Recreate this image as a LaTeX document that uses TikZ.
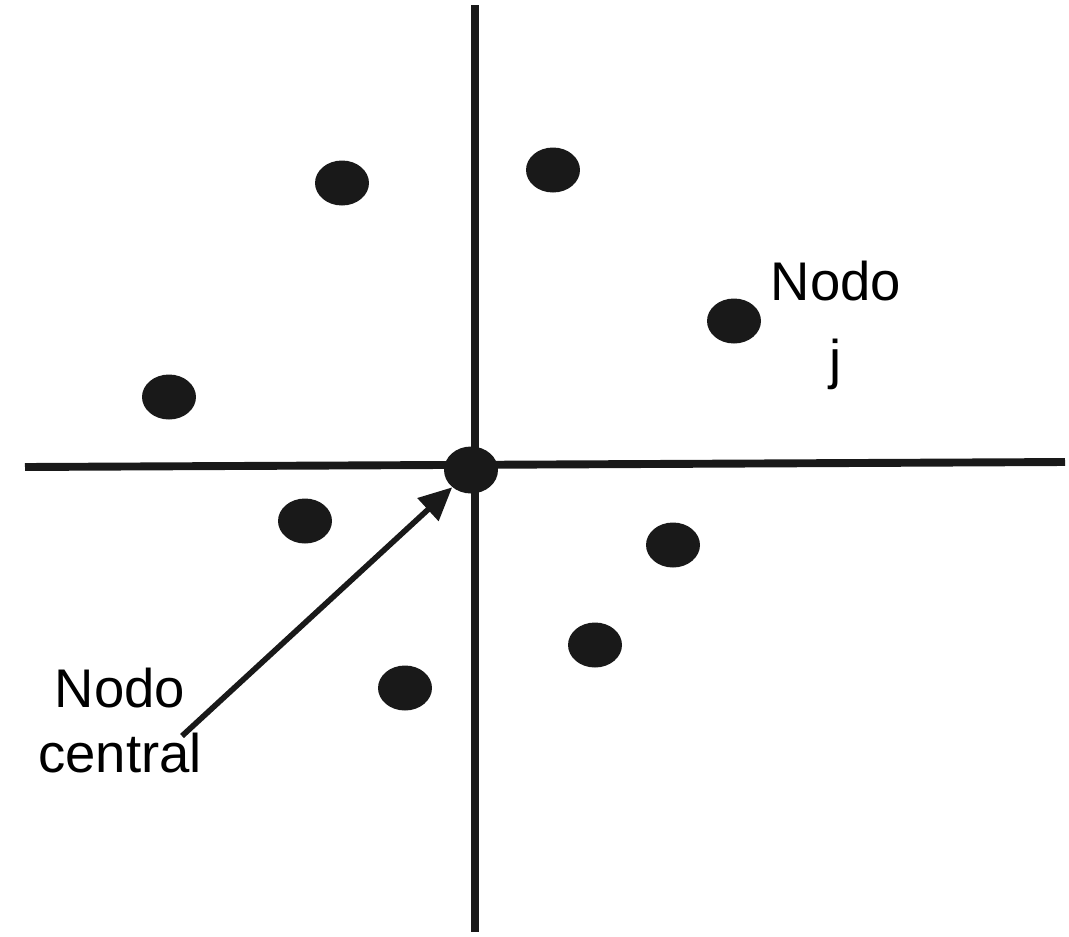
\documentclass[tikz,border=0pt]{standalone}
\usepackage{fontspec}
\setmainfont{Liberation Sans}
\usetikzlibrary{shapes.geometric,arrows.meta}

\tikzset{
  dot/.style={ellipse, fill=black!90, inner sep=0pt, minimum width=1.08cm, minimum height=0.9cm},
  axis/.style={line width=4.5pt, black!90},
  lbl/.style={font=\fontsize{31}{34}\selectfont, align=center, inner sep=0pt},
}

\begin{document}
\begin{tikzpicture}[x=0.02cm, y=-0.02cm]
\useasboundingbox (0,0) rectangle (1069,937);

% axes
\coordinate (top) at (475,5);
\coordinate (bottom) at (475,932);
\coordinate (left) at (25,467);
\coordinate (right) at (1065,462);
\draw[axis] (top) -- (bottom);
\draw[axis] (left) -- (right);

% central node
\node[dot, minimum width=1.08cm, minimum height=0.94cm] (central) at (471,470) {};

% neighbour nodes
\node[dot] (n1) at (342,183) {};
\node[dot] (n2) at (553,170) {};
\node[dot] (nj) at (734,321) {};
\node[dot] (n4) at (169,397) {};
\node[dot] (n5) at (305,521) {};
\node[dot] (n6) at (673,545) {};
\node[dot] (n7) at (595,645) {};
\node[dot] (n8) at (405,688) {};

% labels (base = last line)
\node[lbl, anchor=base] (lblj) at (836,378) {Nodo\\[10pt]j};
\node[lbl, anchor=base] (lblc) at (120,772) {Nodo\\[3pt]central};

% arrow
\coordinate (tail) at (182,736);
\draw[line width=3.2pt, black!90, -{Triangle[length=0.66cm, width=0.6cm]}] (tail) -- (central);

\end{tikzpicture}
\end{document}
